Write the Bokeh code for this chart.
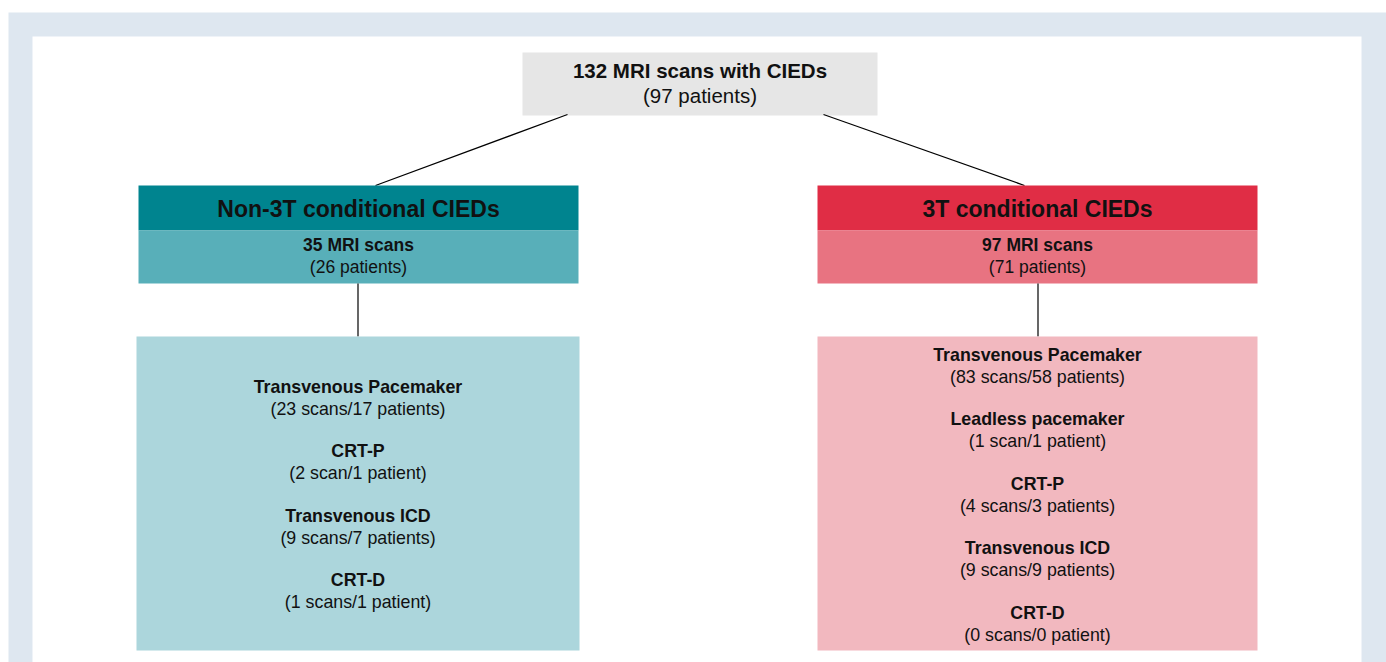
from bokeh.plotting import figure
from bokeh.models import Range1d
from bokeh.core.properties import value
from bokeh.embed import file_html
from bokeh.resources import INLINE

# ---------------- data ----------------
top_title = "132 MRI scans with CIEDs"
top_patients = 97

groups = ["Non-3T conditional CIEDs", "3T conditional CIEDs"]
group_scans = [35, 97]
group_patients = [26, 71]

left_devices = ["Transvenous Pacemaker", "CRT-P", "Transvenous ICD", "CRT-D"]
left_details = ["(23 scans/17 patients)", "(2 scan/1 patient)",
                "(9 scans/7 patients)", "(1 scans/1 patient)"]
right_devices = ["Transvenous Pacemaker", "Leadless pacemaker", "CRT-P",
                 "Transvenous ICD", "CRT-D"]
right_details = ["(83 scans/58 patients)", "(1 scan/1 patient)",
                 "(4 scans/3 patients)", "(9 scans/9 patients)",
                 "(0 scans/0 patient)"]

# ---------------- style / layout ----------------
W, H = 1386, 662
X0, Y0 = 0, 0
FONT = value("Liberation Sans")
TXT = "#111111"

frame_col = "#dee7f0"
top_col = "#e6e6e6"
head_cols = ["#00848f", "#e02d45"]
sub_cols = ["#58afb9", "#e87381"]
body_cols = ["#acd6dc", "#f2b8bf"]

p = figure(width=W, height=H, output_backend="svg", toolbar_location=None,
           x_range=Range1d(X0, X0 + W), y_range=Range1d(Y0 + H, Y0),
           min_border=0, background_fill_color="white",
           border_fill_color="white")
p.axis.visible = False
p.grid.visible = False
p.outline_line_color = None

# frame
p.quad(left=[8], right=[1400], top=[12], bottom=[700], fill_color=frame_col, line_color=None)
p.quad(left=[32], right=[1361], top=[36], bottom=[700], fill_color="white", line_color=None)

# top box
p.quad(left=[522], right=[877], top=[52], bottom=[115], fill_color=top_col, line_color=None)
p.text(x=[699.5], y=[70], text=[top_title], text_font=FONT, text_font_size="20.5px",
       text_font_style="bold", text_align="center", text_baseline="middle", text_color=TXT)
p.text(x=[699.5], y=[95], text=[f"({top_patients} patients)"], text_font=FONT,
       text_font_size="20.5px", text_align="center", text_baseline="middle", text_color=TXT)

# connecting lines
p.segment(x0=[567, 823], y0=[114, 114], x1=[375, 1024], y1=[185, 185],
          line_color="black", line_width=1.2)

lefts = [138, 817]
rights = [578, 1257]
for gi in range(2):
    l, r = lefts[gi], rights[gi]
    cx = (l + r) / 2
    p.quad(left=[l], right=[r], top=[185], bottom=[230], fill_color=head_cols[gi], line_color=None)
    p.quad(left=[l], right=[r], top=[230], bottom=[283], fill_color=sub_cols[gi], line_color=None)
    p.text(x=[cx], y=[208.5], text=[groups[gi]], text_font=FONT, text_font_size="23px",
           text_font_style="bold", text_align="center", text_baseline="middle", text_color=TXT)
    p.text(x=[cx], y=[244.5], text=[f"{group_scans[gi]} MRI scans"], text_font=FONT,
           text_font_size="17.5px", text_font_style="bold", text_align="center",
           text_baseline="middle", text_color=TXT)
    p.text(x=[cx], y=[266.5], text=[f"({group_patients[gi]} patients)"], text_font=FONT,
           text_font_size="17.5px", text_align="center", text_baseline="middle", text_color=TXT)
    # vertical connector
    vx = 357.5 if gi == 0 else 1037.5
    p.segment(x0=[vx], y0=[283], x1=[vx], y1=[336], line_color="black", line_width=1.2)
    # body box
    bl = 136 if gi == 0 else 817
    br = 579 if gi == 0 else 1257
    p.quad(left=[bl], right=[br], top=[336], bottom=[650], fill_color=body_cols[gi], line_color=None)
    devs = left_devices if gi == 0 else right_devices
    dets = left_details if gi == 0 else right_details
    n = len(devs)
    mid = 494
    step = 64.5
    bx = (bl + br) / 2
    ys = [mid + (i - (n - 1) / 2) * step for i in range(n)]
    p.text(x=[bx] * n, y=[y - 11 for y in ys], text=devs, text_font=FONT,
           text_font_size="17.8px", text_font_style="bold", text_align="center",
           text_baseline="middle", text_color=TXT)
    p.text(x=[bx] * n, y=[y + 11 for y in ys], text=dets, text_font=FONT,
           text_font_size="17.8px", text_align="center", text_baseline="middle", text_color=TXT)

open("out.html", "w").write(file_html(p, INLINE))
